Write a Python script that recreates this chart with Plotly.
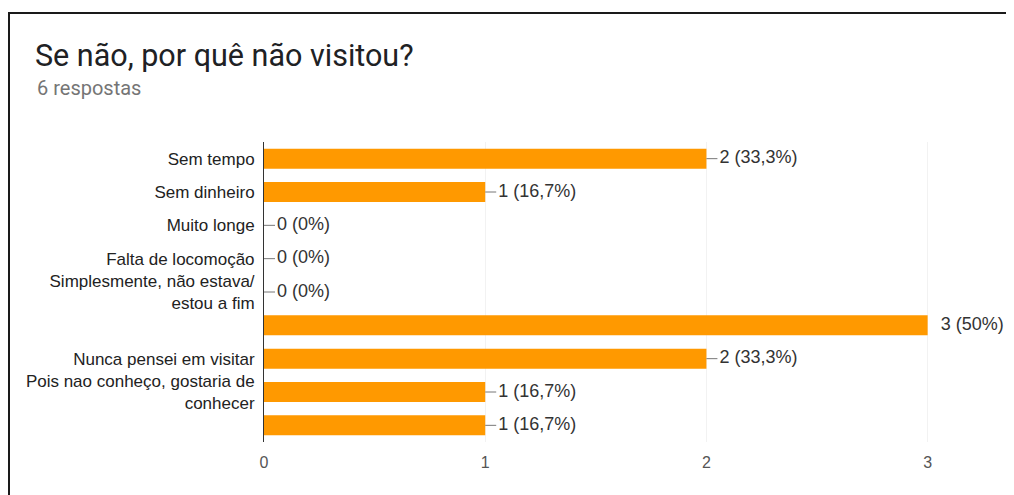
import plotly.graph_objects as go

categories = [
    "Sem tempo",
    "Sem dinheiro",
    "Muito longe",
    "Falta de locomoção",
    "Simplesmente, não estava/<br>estou a fim",
    "",
    "Nunca pensei em visitar",
    "Pois nao conheço, gostaria de<br>conhecer",
    "",
]
counts = [2, 1, 0, 0, 0, 3, 2, 1, 1]
percent_labels = ["33,3%", "16,7%", "0%", "0%", "0%", "50%", "33,3%", "16,7%", "16,7%"]
x_ticks = [0, 1, 2, 3]

title_text = "Se não, por quê não visitou?"
subtitle_text = "6 respostas"

# page body has an 8px margin, so the figure is laid out 8px smaller/shifted
W, H = 1006, 487
L, R, T, B = 256, 20, 134, 53
plot_w = W - L - R
plot_h = H - T - B
x_max = 3.3
px_per_unit = plot_w / x_max

ypos = list(range(len(categories)))
max_count = max(counts)

fig = go.Figure()
fig.add_trace(go.Bar(
    x=counts, y=ypos, orientation="h",
    marker=dict(color="#FF9900", line=dict(width=0)),
    width=0.6, hoverinfo="skip", showlegend=False,
))

# leader lines
lx, ly = [], []
for v, y in zip(counts, ypos):
    if v < max_count:
        lx += [v, v + 11 / px_per_unit, None]
        ly += [y, y, None]
fig.add_trace(go.Scatter(
    x=lx, y=ly, mode="lines",
    line=dict(color="#777777", width=1),
    hoverinfo="skip", showlegend=False,
))

# value labels
fig.add_trace(go.Scatter(
    x=[v + 13 / px_per_unit for v in counts], y=ypos,
    mode="text",
    text=[f"{v} ({p})" for v, p in zip(counts, percent_labels)],
    textposition="middle right",
    textfont=dict(family="Liberation Sans, Arial", size=18, color="#333333"),
    hoverinfo="skip", showlegend=False, cliponaxis=False,
))

fig.update_layout(
    width=W, height=H,
    margin=dict(l=L, r=R, t=T, b=B, autoexpand=False),
    paper_bgcolor="white", plot_bgcolor="white",
    font=dict(family="Liberation Sans, Arial", size=17, color="#222222"),
    title=dict(
        text=title_text, x=27 / W, xanchor="left",
        y=1 - 47 / H, yanchor="middle", yref="container",
        font=dict(family="Roboto", size=30.5, color="#202124"),
    ),
    xaxis=dict(
        range=[0, x_max], tickvals=x_ticks, ticktext=[str(t) for t in x_ticks],
        showgrid=True, gridcolor="#f2f2f2", zeroline=False, showline=False,
        tickfont=dict(family="Liberation Sans, Arial", size=16, color="#555555"),
        ticks="", ticklabelstandoff=9,
    ),
    yaxis=dict(
        range=[len(categories) - 0.5, -0.5],
        tickvals=ypos, ticktext=categories,
        showgrid=False, zeroline=False,
        showline=True, linecolor="#333333", linewidth=1,
        ticks="", ticklabelstandoff=5,
        tickfont=dict(family="Liberation Sans, Arial", size=17, color="#222222"),
    ),
    bargap=0.4,
)

fig.add_annotation(
    text=subtitle_text, xref="paper", yref="paper",
    x=(27 - L) / plot_w, y=(H - B - 80) / plot_h,
    xanchor="left", yanchor="middle", showarrow=False,
    font=dict(family="Roboto", size=20, color="#757575"),
)

# outer frame (card border)
fig.add_shape(
    type="rect", xref="paper", yref="paper",
    x0=(1 - L) / plot_w, x1=(W + 10 - L) / plot_w,
    y0=(H - B - (H + 10)) / plot_h, y1=(H - B - 5) / plot_h,
    line=dict(color="#1a1a1a", width=2), fillcolor="rgba(0,0,0,0)",
    layer="below",
)

fig.write_html("out.html")
